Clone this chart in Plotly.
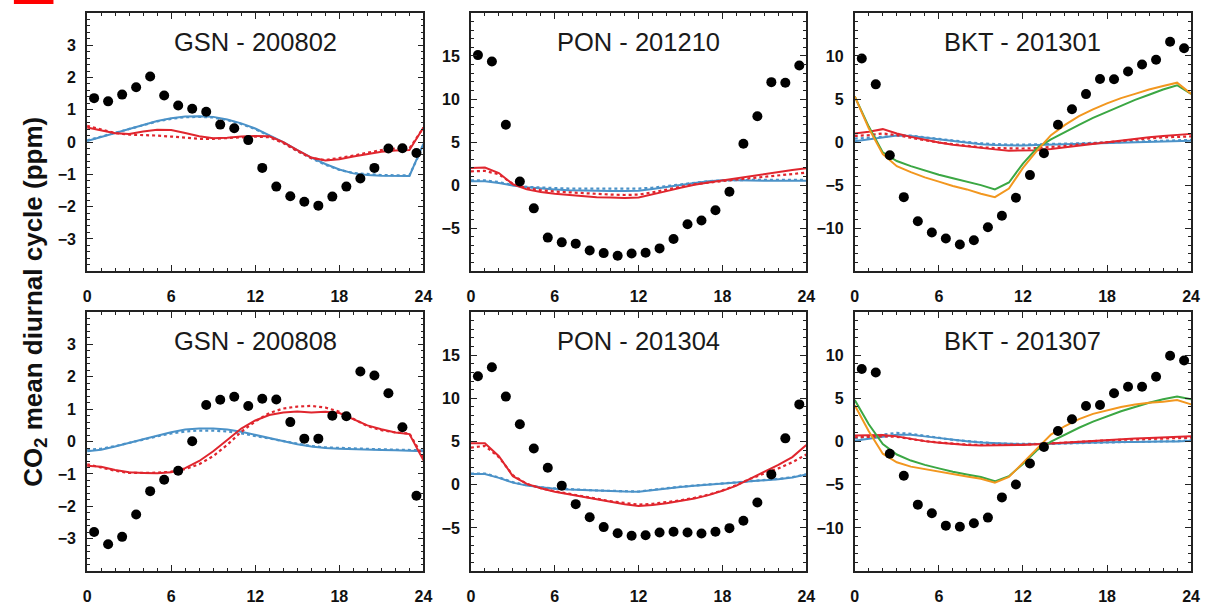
import plotly.graph_objects as go

# ---------------- data ----------------
line_hours = list(range(25))
dot_hours = [h + 0.5 for h in range(24)]

titles = ["GSN - 200802", "PON - 201210", "BKT - 201301",
          "GSN - 200808", "PON - 201304", "BKT - 201307"]

# GSN - 200802
gsn1_obs = [1.36, 1.26, 1.47, 1.70, 2.03, 1.44, 1.13, 1.03, 0.94, 0.54, 0.43, 0.06,
            -0.80, -1.38, -1.68, -1.85, -1.97, -1.69, -1.38, -1.13, -0.80, -0.20, -0.19, -0.34]
gsn1_blue = [0.03, 0.15, 0.27, 0.40, 0.53, 0.65, 0.74, 0.79, 0.80, 0.78, 0.70, 0.58, 0.42,
             0.22, 0.00, -0.25, -0.48, -0.68, -0.85, -0.97, -1.02, -1.04, -1.05, -1.05, -0.05]
gsn1_blue_dot = [0.05, 0.17, 0.29, 0.41, 0.53, 0.64, 0.72, 0.77, 0.78, 0.76, 0.68, 0.56, 0.40,
                 0.20, -0.02, -0.27, -0.50, -0.70, -0.86, -0.96, -1.00, -1.02, -1.03, -1.03, -0.10]
gsn1_red = [0.45, 0.36, 0.27, 0.25, 0.33, 0.38, 0.37, 0.28, 0.18, 0.12, 0.13, 0.17, 0.19,
            0.18, 0.00, -0.25, -0.48, -0.57, -0.53, -0.45, -0.38, -0.30, -0.26, -0.25, 0.45]
gsn1_red_dot = [0.50, 0.38, 0.28, 0.23, 0.22, 0.20, 0.17, 0.13, 0.10, 0.10, 0.12, 0.15, 0.17,
                0.15, -0.03, -0.28, -0.50, -0.56, -0.50, -0.42, -0.33, -0.25, -0.20, -0.20, 0.45]

# PON - 201210
pon1_obs = [15.1, 14.35, 7.0, 0.42, -2.7, -6.1, -6.65, -6.8, -7.6, -7.9, -8.2, -7.95,
            -7.85, -7.35, -6.27, -4.54, -4.12, -2.92, -0.77, 4.8, 8.0, 11.96, 11.88, 13.9]
pon1_red = [2.0, 2.05, 1.4, 0.1, -0.5, -0.8, -1.0, -1.15, -1.3, -1.4, -1.45, -1.5, -1.45,
            -1.1, -0.7, -0.3, 0.05, 0.3, 0.55, 0.8, 1.05, 1.3, 1.5, 1.75, 1.95]
pon1_red_dot = [1.6, 1.65, 1.25, 0.15, -0.35, -0.6, -0.75, -0.85, -0.95, -1.05, -1.1, -1.15, -1.1,
                -0.85, -0.5, -0.2, 0.1, 0.3, 0.5, 0.65, 0.8, 0.95, 1.1, 1.25, 1.45]
pon1_blue = [0.45, 0.45, 0.25, -0.05, -0.25, -0.4, -0.5, -0.6, -0.65, -0.68, -0.7, -0.7, -0.65,
             -0.45, -0.2, 0.05, 0.25, 0.45, 0.55, 0.55, 0.5, 0.5, 0.5, 0.5, 0.5]
pon1_blue_dot = [0.55, 0.55, 0.35, 0.0, -0.2, -0.3, -0.35, -0.4, -0.4, -0.42, -0.42, -0.42, -0.4,
                 -0.3, -0.1, 0.1, 0.3, 0.45, 0.55, 0.6, 0.6, 0.6, 0.6, 0.6, 0.6]

# BKT - 201301
bkt1_obs = [9.7, 6.7, -1.53, -6.4, -9.2, -10.5, -11.2, -11.9, -11.4, -9.9, -8.55, -6.47,
            -3.84, -1.3, 2.0, 3.8, 5.57, 7.33, 7.29, 8.2, 9.0, 9.57, 11.65, 10.9]
bkt1_orange = [5.3, 1.6, -1.4, -2.8, -3.5, -4.1, -4.6, -5.1, -5.5, -6.0, -6.4, -5.4, -3.0,
               -1.0, 0.8, 2.0, 3.0, 3.8, 4.5, 5.1, 5.6, 6.1, 6.5, 6.9, 5.6]
bkt1_green = [5.3, 1.8, -1.2, -2.2, -2.8, -3.3, -3.8, -4.2, -4.6, -5.0, -5.5, -4.7, -2.5,
              -0.7, 0.3, 1.2, 2.0, 2.8, 3.5, 4.2, 4.9, 5.5, 6.1, 6.6, 5.6]
bkt1_red = [1.0, 1.2, 1.5, 1.0, 0.6, 0.25, -0.05, -0.3, -0.5, -0.7, -0.85, -1.0, -1.0,
            -0.95, -0.8, -0.6, -0.4, -0.2, 0.0, 0.2, 0.4, 0.55, 0.7, 0.8, 0.95]
bkt1_red_dot = [0.7, 0.8, 1.0, 0.8, 0.5, 0.2, -0.05, -0.25, -0.45, -0.6, -0.7, -0.75, -0.75,
                -0.7, -0.6, -0.45, -0.3, -0.15, 0.0, 0.15, 0.3, 0.45, 0.55, 0.6, 0.65]
bkt1_blue = [0.1, 0.3, 0.5, 0.75, 0.7, 0.5, 0.3, 0.1, -0.1, -0.25, -0.35, -0.4, -0.4,
             -0.35, -0.3, -0.25, -0.2, -0.15, -0.1, -0.05, 0.0, 0.05, 0.1, 0.15, 0.15]
bkt1_blue_dot = [0.4, 0.5, 0.6, 0.8, 0.75, 0.55, 0.35, 0.15, 0.0, -0.15, -0.25, -0.3, -0.3,
                 -0.28, -0.25, -0.2, -0.15, -0.1, -0.05, 0.0, 0.05, 0.1, 0.15, 0.2, 0.25]

# GSN - 200808
gsn2_obs = [-2.79, -3.17, -2.94, -2.25, -1.53, -1.18, -0.9, 0.01, 1.13, 1.29, 1.38, 1.1,
            1.32, 1.3, 0.6, 0.09, 0.09, 0.8, 0.78, 2.16, 2.04, 1.49, 0.44, -1.67]
gsn2_red = [-0.75, -0.78, -0.88, -0.95, -0.97, -0.98, -0.95, -0.82, -0.6, -0.3, 0.05, 0.4, 0.65,
            0.82, 0.9, 0.93, 0.9, 0.92, 0.88, 0.7, 0.5, 0.38, 0.28, 0.23, -0.58]
gsn2_red_dot = [-0.7, -0.8, -0.9, -0.97, -0.97, -0.96, -0.93, -0.85, -0.7, -0.45, -0.1, 0.3, 0.62,
                0.88, 1.02, 1.08, 1.1, 1.05, 0.92, 0.7, 0.48, 0.35, 0.28, 0.25, -0.5]
gsn2_blue = [-0.3, -0.25, -0.15, -0.05, 0.07, 0.18, 0.29, 0.37, 0.4, 0.4, 0.37, 0.3, 0.2,
             0.1, 0.0, -0.08, -0.15, -0.2, -0.22, -0.24, -0.25, -0.26, -0.27, -0.28, -0.3]
gsn2_blue_dot = [-0.25, -0.22, -0.14, -0.05, 0.06, 0.16, 0.25, 0.31, 0.34, 0.34, 0.31, 0.25, 0.17,
                 0.08, 0.0, -0.08, -0.14, -0.18, -0.2, -0.22, -0.23, -0.24, -0.25, -0.26, -0.27]

# PON - 201304
pon2_obs = [12.55, 13.6, 10.2, 7.0, 4.2, 1.97, -0.1, -2.24, -3.75, -4.9, -5.6, -5.9,
            -5.83, -5.52, -5.44, -5.52, -5.64, -5.44, -5.02, -4.17, -2.05, 1.2, 5.37, 9.3]
pon2_red = [4.8, 4.8, 3.3, 1.0, 0.1, -0.4, -0.8, -1.1, -1.4, -1.7, -2.0, -2.25, -2.45,
            -2.35, -2.15, -1.9, -1.6, -1.2, -0.7, -0.1, 0.7, 1.5, 2.3, 3.2, 4.6]
pon2_red_dot = [4.3, 4.5, 3.2, 1.1, 0.1, -0.4, -0.75, -1.05, -1.35, -1.6, -1.9, -2.1, -2.3,
                -2.2, -2.0, -1.8, -1.5, -1.15, -0.65, -0.05, 0.7, 1.3, 1.9, 2.6, 3.5]
pon2_blue = [1.25, 1.25, 0.8, 0.25, -0.1, -0.3, -0.45, -0.55, -0.62, -0.68, -0.72, -0.78, -0.8,
             -0.6, -0.4, -0.25, -0.1, 0.0, 0.1, 0.25, 0.4, 0.5, 0.65, 0.85, 1.2]
pon2_blue_dot = [1.3, 1.3, 0.85, 0.3, -0.05, -0.28, -0.42, -0.52, -0.6, -0.66, -0.7, -0.75, -0.78,
                 -0.58, -0.38, -0.22, -0.08, 0.02, 0.12, 0.27, 0.42, 0.52, 0.68, 0.88, 1.2]

# BKT - 201307
bkt2_obs = [8.4, 8.0, -1.42, -3.96, -7.3, -8.3, -9.73, -9.85, -9.46, -8.8, -6.46, -4.96,
            -2.54, -0.62, 1.23, 2.58, 4.12, 4.23, 5.58, 6.35, 6.35, 7.5, 9.92, 9.38]
bkt2_orange = [4.2, 1.2, -1.4, -2.4, -2.9, -3.2, -3.5, -3.8, -4.05, -4.3, -4.75, -4.1, -2.5,
               -0.8, 0.8, 1.8, 2.6, 3.2, 3.6, 4.0, 4.3, 4.5, 4.6, 4.8, 4.3]
bkt2_green = [4.8, 2.0, -0.3, -1.5, -2.2, -2.7, -3.1, -3.5, -3.8, -4.1, -4.6, -4.0, -2.6,
              -1.0, 0.0, 0.8, 1.6, 2.3, 2.9, 3.5, 4.0, 4.5, 4.9, 5.2, 4.9]
bkt2_red = [0.7, 0.7, 0.75, 0.6, 0.3, 0.05, -0.15, -0.3, -0.4, -0.45, -0.45, -0.45, -0.4,
            -0.3, -0.2, -0.1, 0.0, 0.1, 0.2, 0.28, 0.35, 0.4, 0.45, 0.5, 0.6]
bkt2_red_dot = [0.5, 0.55, 0.6, 0.55, 0.3, 0.05, -0.1, -0.25, -0.35, -0.4, -0.4, -0.4, -0.35,
                -0.3, -0.2, -0.1, 0.0, 0.1, 0.15, 0.2, 0.25, 0.3, 0.35, 0.4, 0.45]
bkt2_blue = [0.1, 0.3, 0.55, 0.8, 0.8, 0.6, 0.4, 0.2, 0.05, -0.1, -0.2, -0.25, -0.3,
             -0.3, -0.25, -0.2, -0.15, -0.1, -0.1, -0.05, -0.05, 0.0, 0.0, 0.0, 0.1]
bkt2_blue_dot = [0.4, 0.55, 0.8, 1.0, 0.9, 0.65, 0.4, 0.2, 0.05, -0.1, -0.2, -0.25, -0.28,
                 -0.28, -0.25, -0.2, -0.15, -0.1, -0.08, -0.05, -0.03, 0.0, 0.0, 0.05, 0.15]

x_tickvals = [0, 6, 12, 18, 24]
gsn_tickvals = [-3, -2, -1, 0, 1, 2, 3]
pon_tickvals = [-5, 0, 5, 10, 15]
bkt_tickvals = [-10, -5, 0, 5, 10]

# ---------------- style ----------------
RED = "#E0262E"
BLUE = "#4B92C8"
GREEN = "#3BA743"
ORANGE = "#F2971F"
AXC = "#222222"

panels = [
    dict(obs=gsn1_obs, lines=[(gsn1_blue_dot, BLUE, "dot"), (gsn1_blue, BLUE, "solid"),
                              (gsn1_red_dot, RED, "dot"), (gsn1_red, RED, "solid")],
         yr=[-4, 4], yt=gsn_tickvals, ym=0.2),
    dict(obs=pon1_obs, lines=[(pon1_blue_dot, BLUE, "dot"), (pon1_blue, BLUE, "solid"),
                              (pon1_red_dot, RED, "dot"), (pon1_red, RED, "solid")],
         yr=[-10, 20], yt=pon_tickvals, ym=1),
    dict(obs=bkt1_obs, lines=[(bkt1_blue_dot, BLUE, "dot"), (bkt1_blue, BLUE, "solid"),
                              (bkt1_red_dot, RED, "dot"), (bkt1_red, RED, "solid"),
                              (bkt1_green, GREEN, "solid"), (bkt1_orange, ORANGE, "solid")],
         yr=[-15, 15], yt=bkt_tickvals, ym=1),
    dict(obs=gsn2_obs, lines=[(gsn2_blue_dot, BLUE, "dot"), (gsn2_blue, BLUE, "solid"),
                              (gsn2_red_dot, RED, "dot"), (gsn2_red, RED, "solid")],
         yr=[-4, 4], yt=gsn_tickvals, ym=0.2),
    dict(obs=pon2_obs, lines=[(pon2_blue_dot, BLUE, "dot"), (pon2_blue, BLUE, "solid"),
                              (pon2_red_dot, RED, "dot"), (pon2_red, RED, "solid")],
         yr=[-10, 20], yt=pon_tickvals, ym=1),
    dict(obs=bkt2_obs, lines=[(bkt2_blue_dot, BLUE, "dot"), (bkt2_blue, BLUE, "solid"),
                              (bkt2_red_dot, RED, "dot"), (bkt2_red, RED, "solid"),
                              (bkt2_green, GREEN, "solid"), (bkt2_orange, ORANGE, "solid")],
         yr=[-15, 15], yt=bkt_tickvals, ym=1),
]

W, H = 1210, 605
col_px = [(84, 424), (472, 811), (860, 1200)]
row_px = [(13, 273), (314, 575)]

fig = go.Figure()
layout = dict(
    width=W, height=H, margin=dict(l=0, r=0, t=0, b=0),
    paper_bgcolor="white", plot_bgcolor="white", showlegend=False,
    font=dict(family="Liberation Sans, Arial, sans-serif", color="#111"),
)
annotations = []

for i, p in enumerate(panels):
    r, c = divmod(i, 3)
    xa = "x" if i == 0 else f"x{i+1}"
    ya = "y" if i == 0 else f"y{i+1}"
    xkey = "xaxis" if i == 0 else f"xaxis{i+1}"
    ykey = "yaxis" if i == 0 else f"yaxis{i+1}"
    x0, x1 = col_px[c]
    y0, y1 = row_px[r]
    for vals, color, dash in p["lines"]:
        fig.add_trace(go.Scatter(x=line_hours, y=vals, mode="lines", xaxis=xa, yaxis=ya,
                                 line=dict(color=color, width=2 if dash == "solid" else 2.2, dash=dash),
                                 hoverinfo="skip"))
    fig.add_trace(go.Scatter(x=dot_hours, y=p["obs"], mode="markers", xaxis=xa, yaxis=ya,
                             marker=dict(color="black", size=10, line=dict(width=0)),
                             cliponaxis=False))
    layout[xkey] = dict(
        domain=[x0 / W, x1 / W], anchor=ya, range=[0, 24],
        tickvals=x_tickvals, ticks="inside", ticklen=6, tickwidth=1.3, tickcolor=AXC,
        showline=True, linecolor=AXC, linewidth=1.8, mirror="ticks",
        showgrid=False, zeroline=False,
        tickfont=dict(size=16, weight="bold", color="#111"), ticklabelstandoff=10,
        minor=dict(dtick=1, ticks="inside", ticklen=3, tickwidth=1, tickcolor=AXC, showgrid=False),
    )
    layout[ykey] = dict(
        domain=[1 - y1 / H, 1 - y0 / H], anchor=xa, range=p["yr"],
        tickvals=p["yt"], ticks="inside", ticklen=6, tickwidth=1.3, tickcolor=AXC,
        showline=True, linecolor=AXC, linewidth=1.8, mirror="ticks",
        showgrid=False, zeroline=False,
        tickfont=dict(size=16, weight="bold", color="#111"), ticklabelstandoff=6,
        minor=dict(dtick=p["ym"], tick0=0, ticks="inside", ticklen=3, tickwidth=1,
                   tickcolor=AXC, showgrid=False),
    )
    annotations.append(dict(
        text=titles[i], xref="paper", yref="paper",
        x=(x0 + x1) / 2 / W, y=1 - (y0 + 29) / H, xanchor="center", yanchor="middle",
        showarrow=False, font=dict(size=25.5, color="#1a1a1a"),
    ))

annotations.append(dict(
    text="CO<sub>2</sub> mean diurnal cycle (ppm)", xref="paper", yref="paper",
    x=31 / W, y=1 - 304 / H, xanchor="center", yanchor="middle", textangle=-90,
    showarrow=False, font=dict(size=26, weight="bold", color="#111"),
))
layout["annotations"] = annotations
layout["shapes"] = [dict(type="rect", xref="paper", yref="paper",
                         x0=10 / W, x1=50 / W, y0=1 - 4 / H, y1=1,
                         fillcolor="#FF0000", line=dict(width=0))]
fig.update_layout(**layout)
fig.write_html("out.html")
